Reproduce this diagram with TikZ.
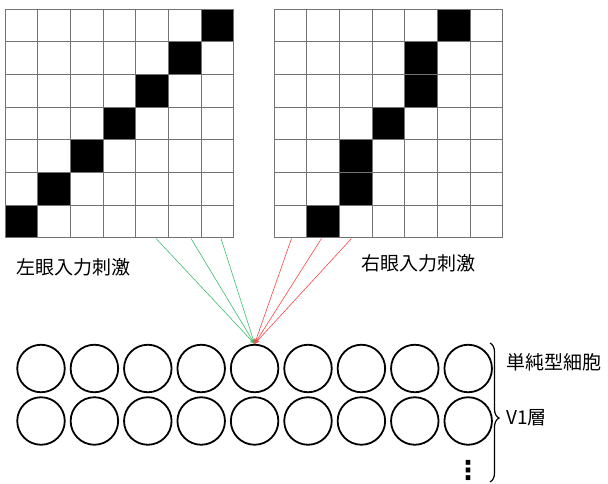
\documentclass[tikz,border=0pt]{standalone}
\usepackage{fontspec}
\setmainfont{Noto Sans CJK JP}
\newfontfamily\dejavu{DejaVu Sans}
\usetikzlibrary{arrows.meta,positioning,decorations.pathreplacing}
\definecolor{lgreen}{RGB}{60,190,110}
\definecolor{rred}{RGB}{250,70,70}

\begin{document}
\begin{tikzpicture}[x=1pt,y=-1pt,font=\fontsize{19}{22}\selectfont,
  gl/.style={draw=black!55,line width=0.9pt},
  cel/.style={circle,draw,line width=1.8pt,minimum size=47.5pt,inner sep=0pt},
  lb/.style={anchor=west,inner sep=0pt},
  g/.style={-{Stealth[length=5pt,width=4pt]},color=lgreen,line width=0.6pt},
  r/.style={-{Stealth[length=5pt,width=4pt]},color=rred,line width=0.6pt}]
  \useasboundingbox (0,0) rectangle (608,484);
  % left eye
  \foreach \i/\j in {0/6,1/5,2/4,3/3,4/2,5/1,6/0}
    \fill (5+\j*32.7,9+\i*32.7) rectangle ++(32.7,32.7);
  \foreach \k in {0,...,7} {
    \draw[gl] (5+\k*32.7,9) -- ++(0,228.9);
    \draw[gl] (5,9+\k*32.7) -- ++(228.9,0);
  }
  % right eye
  \foreach \i/\j in {0/5,1/4,2/4,3/3,4/2,5/2,6/1}
    \fill (274+\j*32.7,9+\i*32.7) rectangle ++(32.7,32.7);
  \foreach \k in {0,...,7} {
    \draw[gl] (274+\k*32.7,9) -- ++(0,228.9);
    \draw[gl] (274,9+\k*32.7) -- ++(228.9,0);
  }
  \node[lb] (lin) at (16,267) {左眼入力刺激};
  \node[lb] (rin) at (361,263) {右眼入力刺激};
  % V1 cells
  \foreach \i in {1,...,9} {
    \node[cel] (c\i) at ({41+(\i-1)*53.4},368.5) {};
    \node[cel] (d\i) at ({41+(\i-1)*53.4},421) {};
  }
  \node[inner sep=0pt,font=\dejavu\fontsize{26}{28}\selectfont\bfseries] (dots) at (468,470) {⋮};
  % inputs
  \coordinate (l1) at (156,238.5); \coordinate (l2) at (191,238.5); \coordinate (l3) at (221,238.5);
  \coordinate (r1) at (291.5,238.5); \coordinate (r2) at (321.5,238.5); \coordinate (r3) at (351.5,238.5);
  \foreach \p in {l1,l2,l3} \draw[g] (\p) -- (c5.north);
  \foreach \p in {r1,r2,r3} \draw[r] (\p) -- (c5.north);
  % brace
  \coordinate (bt) at (490,343); \coordinate (bb) at (490,482);
  \draw[decorate,decoration={brace,amplitude=9pt,aspect=0.54},line width=1.2pt] (bt) -- (bb);
  \node[lb] (simple) at (506,362) {単純型細胞};
  \node[lb] (v1) at (506,418) {V1層};
\end{tikzpicture}
\end{document}
